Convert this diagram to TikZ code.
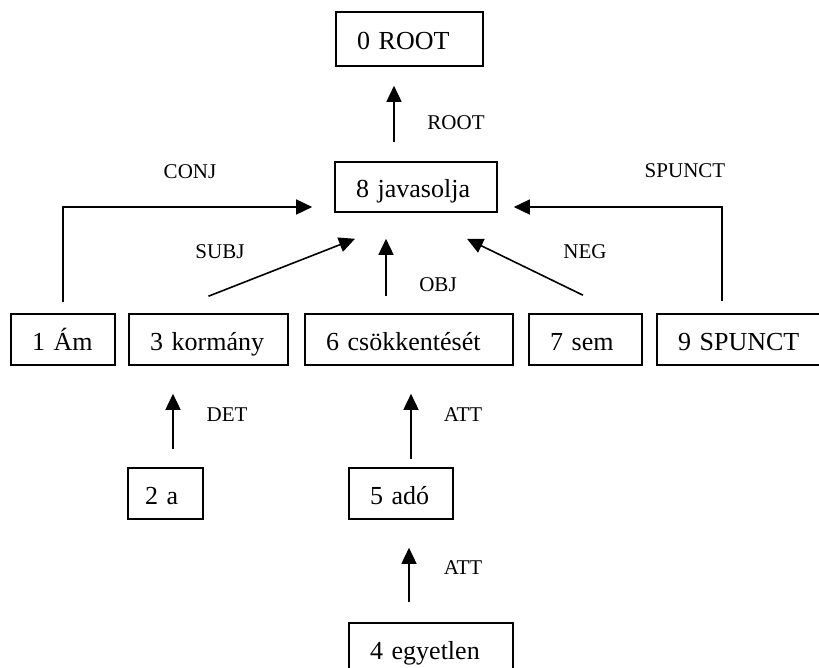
\documentclass[tikz,border=0pt]{standalone}
\usepackage{fontspec}
\setmainfont{Liberation Serif}
\usetikzlibrary{arrows.meta}
\begin{document}
\begin{tikzpicture}[x=1pt,y=-1pt,
  box/.style={draw,line width=1.6pt,inner xsep=21pt,inner ysep=0pt,align=left,
    text height=26pt,text depth=5pt,minimum height=51pt,
    font=\fontsize{26}{30}\selectfont},
  lab/.style={font=\fontsize{21}{24}\selectfont,inner sep=0pt},
  arr/.style={line width=1.6pt,-{Triangle[length=16pt,width=15pt]}}]
\useasboundingbox (0,0) rectangle (819,667);
\clip (0,0) rectangle (819,667);
% boxes
\node[box,text width=105pt,minimum height=54pt] (root) at (409.5,39) {0 ROOT};
\node[box,text width=120pt,minimum height=50pt] (jav) at (416,187) {8 javasolja};
\node[box,text width=62pt] (am) at (63,339.5) {1 Ám};
\node[box,text width=117pt] (korm) at (208.5,339.5) {3 kormány};
\node[box,text width=166pt] (csok) at (409,339.5) {6 csökkentését};
\node[box,text width=71pt] (sem) at (585.5,339.5) {7 sem};
\node[box,text width=131pt] (spunct) at (743.5,339.5) {9 SPUNCT};
\node[box,inner xsep=17pt,text width=41pt] (a2) at (165.5,493.5) {2 a};
\node[box,text width=62pt] (ado) at (401,493.5) {5 adó};
\node[box,text width=122pt] (egy) at (431,648.5) {4 egyetlen};
% connectors
\draw[arr] ([xshift=-22pt,yshift=19pt]jav.north) -- ([xshift=-15.5pt,yshift=-19pt]root.south);
\draw[arr] ([yshift=11pt]am.north) |- ([xshift=-22pt,yshift=-20pt]jav.west);
\draw[arr] ([xshift=-21.5pt,yshift=12pt]spunct.north) |- ([xshift=16pt,yshift=-20pt]jav.east);
\draw[arr] ([yshift=17pt]korm.north) -- ([xshift=-61pt,yshift=-26pt]jav.south);
\draw[arr] ([xshift=-23pt,yshift=17pt]csok.north) -- ([xshift=-30pt,yshift=-26pt]jav.south);
\draw[arr] ([xshift=-2.5pt,yshift=18pt]sem.north) -- ([xshift=51pt,yshift=-26pt]jav.south);
\draw[arr] ([xshift=7.5pt,yshift=18pt]a2.north) -- ([xshift=-35.5pt,yshift=-28pt]korm.south);
\draw[arr] ([xshift=10pt,yshift=8pt]ado.north) -- ([xshift=2pt,yshift=-28pt]csok.south);
\draw[arr] ([xshift=-22pt,yshift=20pt]egy.north) -- ([xshift=8pt,yshift=-28pt]ado.south);
% labels
\node[lab] (lroot) at (456,123) {ROOT};
\node[lab] (lconj) at (190,172) {CONJ};
\node[lab] (lspunct) at (685,171) {SPUNCT};
\node[lab] (lsubj) at (220,252) {SUBJ};
\node[lab] (lneg) at (585,252) {NEG};
\node[lab] (lobj) at (438,285) {OBJ};
\node[lab] (ldet) at (227,415) {DET};
\node[lab] (latt1) at (463,415) {ATT};
\node[lab] (latt2) at (463,568) {ATT};
\end{tikzpicture}
\end{document}
